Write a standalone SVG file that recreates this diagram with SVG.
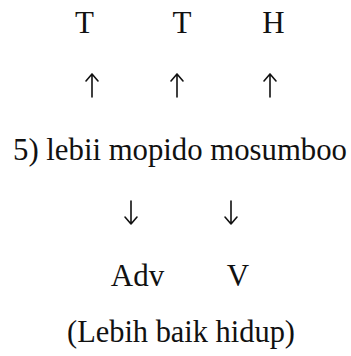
<svg xmlns="http://www.w3.org/2000/svg" width="351" height="356" viewBox="0 0 351 356">
<style>
.t{font-family:"Liberation Serif","Times New Roman",serif;font-size:31px;fill:#111;text-anchor:middle}
.ar{fill:none;stroke:#111;stroke-width:1.6;stroke-linecap:round;stroke-linejoin:round}
</style>
<rect width="351" height="356" fill="#fff"/>
<g id="T1"><text class="t" x="84.5" y="33">T</text></g>
<g id="T2"><text class="t" x="182" y="33">T</text></g>
<g id="H"><text class="t" x="273.5" y="33">H</text></g>
<g id="sentence"><text class="t" x="180" y="160" textLength="334" lengthAdjust="spacingAndGlyphs">5) lebii mopido mosumboo</text></g>
<g id="Adv"><text class="t" x="137.5" y="286">Adv</text></g>
<g id="V"><text class="t" x="238" y="286">V</text></g>
<g id="gloss"><text class="t" x="181" y="342" textLength="228" lengthAdjust="spacingAndGlyphs">(Lebih baik hidup)</text></g>
<g id="connectors">
<path class="ar" d="M92 97V74M86 81L92 74L98 81"/>
<path class="ar" d="M177 97V74M171 81L177 74L183 81"/>
<path class="ar" d="M270 97V74M264 81L270 74L276 81"/>
<path class="ar" d="M131 201V224M125 217L131 224L137 217"/>
<path class="ar" d="M231 201V224M225 217L231 224L237 217"/>
</g>
</svg>
